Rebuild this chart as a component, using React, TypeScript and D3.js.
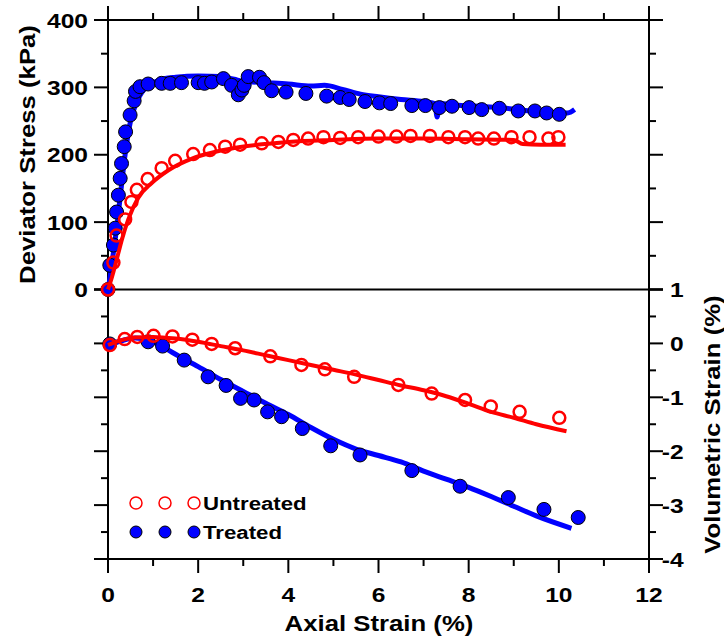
import React from "react";
import * as d3 from "d3";

// Deviator stress (kPa) vs axial strain (%) — measured points
const untreatedStressPts: [number, number][] = [
  [0, 0], [0.12, 40], [0.19, 80], [0.38, 104], [0.52, 130], [0.64, 148], [0.88, 164],
  [1.19, 180], [1.49, 191], [1.89, 201], [2.26, 207], [2.6, 212], [2.93, 215], [3.41, 217],
  [3.78, 219], [4.11, 222], [4.44, 224], [4.78, 226], [5.15, 225], [5.55, 226], [6.0, 227],
  [6.4, 227], [6.71, 228], [7.14, 228], [7.55, 226], [7.92, 226], [8.21, 224], [8.56, 224],
  [8.95, 226], [9.35, 226], [9.77, 224], [9.99, 226],
];
const treatedStressPts: [number, number][] = [
  [0, 0], [0.04, 36], [0.12, 66], [0.16, 91], [0.19, 115], [0.23, 140], [0.27, 165],
  [0.3, 187], [0.36, 212], [0.39, 234], [0.49, 259], [0.58, 280], [0.61, 294], [0.71, 301],
  [0.89, 305], [1.19, 306], [1.38, 306], [1.63, 307], [2.0, 307], [2.14, 306], [2.3, 308],
  [2.56, 313], [2.74, 303], [2.89, 289], [2.97, 296], [3.02, 303], [3.11, 316], [3.36, 315],
  [3.46, 307], [3.63, 295], [3.95, 293], [4.39, 291], [4.85, 287], [5.15, 285], [5.35, 282],
  [5.7, 279], [6.02, 277], [6.27, 276], [6.74, 273], [7.04, 273], [7.35, 270], [7.63, 272],
  [8.01, 270], [8.29, 267], [8.68, 269], [9.1, 265], [9.47, 265], [9.73, 262], [10.01, 260],
];

// Deviator stress — model curves
const untreatedStressFit: [number, number][] = [
  [0, 0], [0.05, 10], [0.12, 26], [0.23, 54], [0.3, 72], [0.45, 104], [0.67, 136],
  [0.97, 158], [1.34, 177], [1.85, 194], [2.3, 203], [2.8, 210], [3.5, 216], [4.0, 219],
  [5.0, 222], [6.0, 224], [7.0, 224], [8.0, 223], [9.0, 222], [9.2, 216], [9.6, 215], [10.15, 215],
];
const treatedStressFit: [number, number][] = [
  [0, 0], [0.05, 20], [0.1, 45], [0.15, 70], [0.2, 95], [0.25, 125], [0.3, 155], [0.35, 185],
  [0.4, 210], [0.45, 232], [0.5, 250], [0.6, 272], [0.7, 287], [0.8, 297], [0.9, 303],
  [1.0, 307], [1.2, 312], [1.5, 315], [2.0, 317], [2.5, 316], [2.8, 312], [3.0, 309],
  [3.5, 307], [4.0, 305], [4.5, 302], [4.8, 303], [5.2, 297], [5.6, 290], [6.0, 286],
  [6.5, 282], [7.0, 279], [7.25, 276], [7.3, 256], [7.36, 276], [7.7, 274], [8.2, 272],
  [8.7, 270], [9.2, 266], [9.6, 264], [10.0, 262], [10.2, 262], [10.35, 267],
];

// Volumetric strain (%) vs axial strain (%) — measured points
const untreatedVolPts: [number, number][] = [
  [0.04, -0.03], [0.37, 0.08], [0.65, 0.12], [1.01, 0.14], [1.43, 0.13], [1.87, 0.07],
  [2.3, -0.01], [2.82, -0.09], [3.6, -0.24], [4.29, -0.4], [4.81, -0.48], [5.46, -0.62],
  [6.44, -0.77], [7.18, -0.93], [7.92, -1.05], [8.49, -1.17], [9.13, -1.27], [10.01, -1.38],
];
const treatedVolPts: [number, number][] = [
  [0.04, -0.01], [0.89, 0.03], [1.21, -0.05], [1.69, -0.31], [2.22, -0.62], [2.62, -0.78],
  [2.94, -1.02], [3.24, -1.05], [3.54, -1.27], [3.85, -1.36], [4.31, -1.58], [4.94, -1.9],
  [5.59, -2.07], [6.74, -2.36], [7.81, -2.65], [8.88, -2.86], [9.67, -3.08], [10.43, -3.23],
];

// Volumetric strain — model curves
const untreatedVolFit: [number, number][] = [
  [0, -0.03], [0.3, 0.06], [0.6, 0.11], [1.0, 0.12], [1.5, 0.09], [2.0, 0.03], [2.5, -0.05],
  [3.0, -0.13], [3.5, -0.22], [4.0, -0.31], [4.5, -0.4], [5.0, -0.49], [5.5, -0.58],
  [6.0, -0.68], [6.5, -0.78], [7.0, -0.87], [7.5, -0.98], [8.0, -1.12], [8.5, -1.27],
  [9.0, -1.38], [9.5, -1.5], [10.17, -1.63],
];
const treatedVolFit: [number, number][] = [
  [0, -0.03], [0.3, 0.05], [0.6, 0.1], [0.9, 0.07], [1.2, -0.06], [1.6, -0.25], [2.0, -0.43],
  [2.5, -0.67], [3.0, -0.89], [3.5, -1.11], [4.0, -1.32], [4.5, -1.56], [5.0, -1.78],
  [5.5, -1.96], [6.0, -2.08], [6.5, -2.2], [7.0, -2.37], [7.5, -2.52], [8.0, -2.67],
  [8.5, -2.84], [9.0, -3.02], [9.5, -3.2], [10.28, -3.43],
];

const xTickLabels = [0, 2, 4, 6, 8, 10, 12];
const stressTickLabels = [0, 100, 200, 300, 400];
const volTickLabels = [1, 0, -1, -2, -3, -4];
const seriesNames = ["Untreated", "Treated"];

const RED = "#FF0000";
const BLUE = "#0000FF";
const FONT = "'Liberation Sans', Arial, sans-serif";
const SX = 1.17;

const x = d3.scaleLinear().domain([0, 12]).range([108, 649]);
const yTop = d3.scaleLinear().domain([0, 400]).range([289.5, 20]);
const yBot = d3.scaleLinear().domain([-4, 1]).range([559, 289.5]);

function Label({ x: px, y: py, size, anchor = "middle", rotate = 0, children }: any) {
  return (
    <text
      transform={`translate(${px},${py}) rotate(${rotate}) scale(${SX},1)`}
      textAnchor={anchor}
      fontSize={size}
      fontWeight="bold"
      fontFamily={FONT}
      fill="#000"
    >
      {children}
    </text>
  );
}

export default function App() {
  const lineTop = d3
    .line<[number, number]>()
    .x((d) => x(d[0]))
    .y((d) => yTop(d[1]))
    .curve(d3.curveMonotoneX);
  const lineBot = d3
    .line<[number, number]>()
    .x((d) => x(d[0]))
    .y((d) => yBot(d[1]))
    .curve(d3.curveMonotoneX);

  const MAJ = 14;
  const MIN = 7;
  const ticks: JSX.Element[] = [];
  const tk = (x1: number, y1: number, x2: number, y2: number, k: string) =>
    ticks.push(<line key={k} x1={x1} y1={y1} x2={x2} y2={y2} stroke="#000" strokeWidth={2} />);

  // horizontal axes: top (ticks up) and bottom (ticks down)
  d3.range(0, 13, 1).forEach((v) => {
    const len = v % 2 === 0 ? MAJ : MIN;
    tk(x(v), 20, x(v), 20 - len, `t${v}`);
    tk(x(v), 559, x(v), 559 + len, `b${v}`);
  });
  // stress ticks on both vertical axes
  d3.range(0, 401, 50).forEach((v) => {
    const len = v % 100 === 0 ? MAJ : MIN;
    tk(108, yTop(v), 108 - len, yTop(v), `ls${v}`);
    tk(649, yTop(v), 649 + len, yTop(v), `rs${v}`);
  });
  // volumetric ticks on both vertical axes
  d3.range(-4, 1.01, 0.5).forEach((v) => {
    const len = Math.abs(v % 1) < 1e-9 ? MAJ : MIN;
    tk(108, yBot(v), 108 - len, yBot(v), `lv${v}`);
    tk(649, yBot(v), 649 + len, yBot(v), `rv${v}`);
  });

  const dot = (d: [number, number], y: (v: number) => number, k: string, filled: boolean) =>
    filled ? (
      <circle key={k} cx={x(d[0])} cy={y(d[1])} r={7} fill={BLUE} stroke="#000" strokeWidth={1} />
    ) : (
      <circle key={k} cx={x(d[0])} cy={y(d[1])} r={6} fill="none" stroke={RED} strokeWidth={2.5} />
    );

  return (
    <svg
      width={724}
      height={638}
      style={{ position: "absolute", left: 0, top: 0, background: "#fff" }}
    >
      <rect width={724} height={638} fill="#fff" />

      {/* frame */}
      <line x1={94} y1={20} x2={663} y2={20} stroke="#000" strokeWidth={2} />
      <line x1={94} y1={559} x2={663} y2={559} stroke="#000" strokeWidth={2} />
      <line x1={94} y1={289.5} x2={663} y2={289.5} stroke="#000" strokeWidth={2} />
      <line x1={108} y1={6} x2={108} y2={573} stroke="#000" strokeWidth={2} />
      <line x1={649} y1={6} x2={649} y2={573} stroke="#000" strokeWidth={2} />
      {ticks}

      {/* curves */}
      <path d={lineTop(treatedStressFit) || ""} fill="none" stroke={BLUE} strokeWidth={5} strokeLinejoin="round" />
      {treatedStressPts.map((d, i) => dot(d, yTop, `ts${i}`, true))}
      <path d={lineTop(untreatedStressFit) || ""} fill="none" stroke={RED} strokeWidth={4} strokeLinejoin="round" />
      {untreatedStressPts.map((d, i) => dot(d, yTop, `us${i}`, false))}

      <path d={lineBot(treatedVolFit) || ""} fill="none" stroke={BLUE} strokeWidth={5} />
      {treatedVolPts.map((d, i) => dot(d, yBot, `tv${i}`, true))}
      <path d={lineBot(untreatedVolFit) || ""} fill="none" stroke={RED} strokeWidth={4} />
      {untreatedVolPts.map((d, i) => dot(d, yBot, `uv${i}`, false))}

      {/* tick labels */}
      {xTickLabels.map((v) => (
        <Label key={`xl${v}`} x={x(v)} y={602} size={21}>{v}</Label>
      ))}
      {stressTickLabels.map((v) => (
        <Label key={`sl${v}`} x={88} y={yTop(v) + 7.5} size={21} anchor="end">{v}</Label>
      ))}
      {volTickLabels.map((v) => (
        <g key={`vl${v}`}>
          <Label x={670} y={yBot(v) + 7.5} size={21} anchor="start">{Math.abs(v)}</Label>
          {v < 0 && <Label x={670} y={yBot(v) + 7.5} size={21} anchor="end">-</Label>}
        </g>
      ))}

      {/* axis titles */}
      <Label x={379} y={631} size={22}>Axial Strain (%)</Label>
      <Label x={35} y={154.5} size={22} rotate={-90}>Deviator Stress (kPa)</Label>
      <Label x={720} y={424.5} size={22} rotate={-90}>Volumetric Strain (%)</Label>

      {/* legend */}
      {[136, 165, 194].map((cx) => (
        <circle key={`lu${cx}`} cx={cx} cy={503} r={6} fill="none" stroke={RED} strokeWidth={1.5} />
      ))}
      {[136, 165, 194].map((cx) => (
        <circle key={`lt${cx}`} cx={cx} cy={532} r={6} fill={BLUE} stroke="#000" strokeWidth={1} />
      ))}
      <Label x={203} y={510} size={19} anchor="start">{seriesNames[0]}</Label>
      <Label x={203} y={539} size={19} anchor="start">{seriesNames[1]}</Label>
    </svg>
  );
}
